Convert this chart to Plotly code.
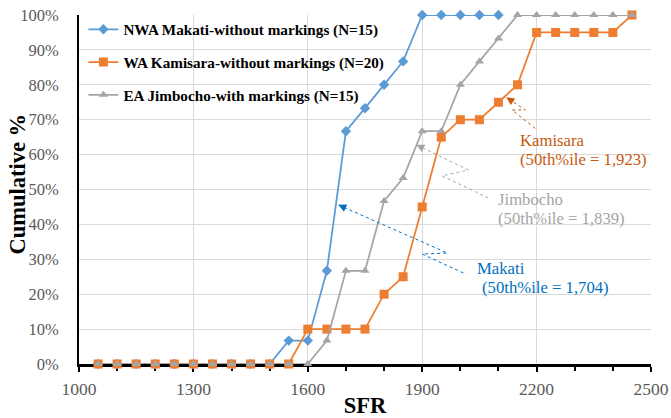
import math
import plotly.graph_objects as go

# ---- data ----
sfr_makati = [1050, 1100, 1150, 1200, 1250, 1300, 1350, 1400, 1450, 1500, 1550, 1600,
              1650, 1700, 1750, 1800, 1850, 1900, 1950, 2000, 2050, 2100]
cum_makati = [0, 0, 0, 0, 0, 0, 0, 0, 0, 0, 6.7, 6.7,
              26.7, 66.7, 73.3, 80.0, 86.7, 100, 100, 100, 100, 100]

sfr_full = [1050, 1100, 1150, 1200, 1250, 1300, 1350, 1400, 1450, 1500, 1550, 1600,
            1650, 1700, 1750, 1800, 1850, 1900, 1950, 2000, 2050, 2100, 2150, 2200,
            2250, 2300, 2350, 2400, 2450]
cum_kamisara = [0, 0, 0, 0, 0, 0, 0, 0, 0, 0, 0, 10,
                10, 10, 10, 20, 25, 45, 65, 70, 70, 75, 80, 95,
                95, 95, 95, 95, 100]
cum_jimbocho = [0, 0, 0, 0, 0, 0, 0, 0, 0, 0, 0, 0,
                6.7, 26.7, 26.7, 46.7, 53.3, 66.7, 66.7, 80.0, 86.7, 93.3, 100, 100,
                100, 100, 100, 100, 100]

names = ["NWA Makati-without markings (N=15)",
         "WA Kamisara-without markings (N=20)",
         "EA Jimbocho-with markings (N=15)"]
colors = ["#5B9BD5", "#ED7D31", "#A5A5A5"]

x_ticks = [1000, 1300, 1600, 1900, 2200, 2500]
x_ticktext = ["1000", "1300", "1600", "1900", "2200", "2500"]
y_ticks = [0, 10, 20, 30, 40, 50, 60, 70, 80, 90, 100]
y_ticktext = ["0%", "10%", "20%", "30%", "40%", "50%", "60%", "70%", "80%", "90%", "100%"]

# annotation texts (two lines each) / colors / positions (data coords)
ann_line1 = ["Makati", "Jimbocho", "Kamisara"]
ann_line2 = ["(50th%ile = 1,704)", "(50th%ile = 1,839)", "(50th%ile = 1,923)"]
ann_colors = ["#0070C0", "#A5A5A5", "#C55A11"]
ann_pos1 = [(2039.6, 27.3), (2094, 47.0), (2152, 64.0)]
ann_pos2 = [(2050.7, 22.0), (2094, 41.6), (2152, 58.5)]
# zigzag leader lines (data coords), last point = arrow head
leader_paths = [
    [(2007.7, 26.1), (1900.2, 31.5), (1965.8, 31.8), (1680, 45.6)],
    [(2073.4, 47.6), (1952, 53.9), (2021, 55.6), (1884.6, 62.8)],
    [(2196.6, 67.5), (2135.5, 72.8), (2170.4, 72.8), (2120.6, 76.4)],
]

SERIF = "Liberation Serif"
W, H = 671, 418
ML, MR, MT, MB = 79, 20, 15, 54
PW, PH = W - ML - MR, H - MT - MB

fig = go.Figure()
fig.add_trace(go.Scatter(x=sfr_makati, y=cum_makati, name=names[0], mode="lines+markers",
                         line=dict(color=colors[0], width=1.75),
                         marker=dict(symbol="diamond", size=8, color=colors[0]),
                         cliponaxis=False, legendgroup="a"))
fig.add_trace(go.Scatter(x=sfr_full, y=cum_kamisara, name=names[1], mode="lines+markers",
                         line=dict(color=colors[1], width=1.75),
                         marker=dict(symbol="square", size=9, color=colors[1]),
                         cliponaxis=False, legendgroup="b"))
fig.add_trace(go.Scatter(x=sfr_full, y=cum_jimbocho, name=names[2], mode="lines+markers",
                         line=dict(color=colors[2], width=1.75),
                         marker=dict(symbol="triangle-up", size=8, color=colors[2]),
                         cliponaxis=False, legendgroup="c"))

shapes = []
annotations = []
for path, col in zip(leader_paths, ann_colors):
    d = "M " + " L ".join(f"{px},{py}" for px, py in path)
    shapes.append(dict(type="path", path=d, xref="x", yref="y",
                       line=dict(color=col, width=1, dash="dot")))
for t1, t2, col, p1, p2 in zip(ann_line1, ann_line2, ann_colors, ann_pos1, ann_pos2):
    for txt, (tx, ty) in ((t1, p1), (t2, p2)):
        annotations.append(dict(x=tx, y=ty, xref="x", yref="y", text=txt, showarrow=False,
                                xanchor="left", yanchor="middle", align="left",
                                font=dict(family=SERIF, size=16.7, color=col)))

# arrow heads: short arrows aligned with the last leader segment
for path, col in zip(leader_paths, ann_colors):
    (x1, y1), (x2, y2) = path[-2], path[-1]
    dx = (x1 - x2) * PW / 1500.0
    dy = -(y1 - y2) * PH / 100.0
    n = math.hypot(dx, dy)
    L = 7.0
    annotations.append(dict(x=x2, y=y2, xref="x", yref="y", text="", showarrow=True,
                            arrowhead=2, arrowsize=1.6, arrowwidth=1, arrowcolor=col,
                            ax=dx / n * L, ay=dy / n * L, standoff=0))

# y-axis title as a rotated annotation for exact placement
annotations.append(dict(x=(16.5 - ML) / PW, y=(364 - 184) / PH, xref="paper", yref="paper",
                        text="<b>Cumulative %</b>", textangle=-90, showarrow=False,
                        xanchor="center", yanchor="middle",
                        font=dict(family=SERIF, size=22.5, color="black")))
fig.layout.annotations = annotations

fig.update_layout(
    width=W, height=H,
    margin=dict(l=ML, r=MR, t=MT, b=MB, autoexpand=False),
    paper_bgcolor="white", plot_bgcolor="white",
    font=dict(family=SERIF, color="#595959"),
    shapes=shapes,
    showlegend=True,
    legend=dict(x=0.0077, y=1.006, xanchor="left", yanchor="top",
                bgcolor="rgba(0,0,0,0)", traceorder="grouped", tracegroupgap=10,
                font=dict(family=SERIF, size=15.2, color="black", weight="bold")),
    xaxis=dict(range=[1000, 2500], tickvals=x_ticks, ticktext=x_ticktext,
               showgrid=True, gridcolor="#D9D9D9", automargin=False,
               gridwidth=1, showline=True, linecolor="black", linewidth=2.5,
               ticks="outside", ticklen=5, tickwidth=2, tickcolor="black",
               minor=dict(dtick=100, tick0=1000, ticks="outside", ticklen=4, tickwidth=1.5,
                          tickcolor="black", showgrid=False),
               tickfont=dict(family=SERIF, size=17.5, color="#595959"),
               ticklabelstandoff=2, zeroline=False, layer="below traces",
               title=dict(text="<b>SFR</b>", font=dict(family=SERIF, size=22.5, color="black"),
                          standoff=0)),
    yaxis=dict(range=[0, 100], tickvals=y_ticks, ticktext=y_ticktext, showgrid=True,
               gridcolor="#D9D9D9", gridwidth=1, showline=True, linecolor="black",
               linewidth=2, ticks="", zeroline=False, layer="below traces",
               automargin=False,
               tickfont=dict(family=SERIF, size=16.5, color="#595959"),
               ticklabelstandoff=15),
)

fig.write_html("out.html", config={"displayModeBar": False},
               post_script="document.body.style.margin='0px';")
